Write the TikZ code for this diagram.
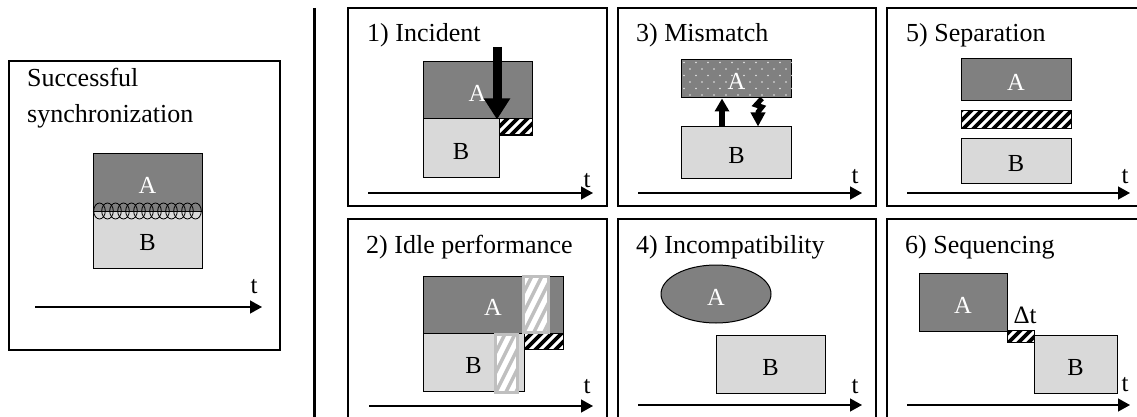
\documentclass[tikz,border=0pt]{standalone}
\usepackage{fontspec}
\setmainfont{Liberation Serif}
\usetikzlibrary{arrows.meta,shapes.geometric}
\definecolor{gA}{HTML}{808080}
\definecolor{gB}{HTML}{D9D9D9}
\definecolor{gbar}{HTML}{BFBFBF}
\definecolor{gdot}{HTML}{E6E6E6}
\tikzset{
  frame/.style={line width=1.6},
  lab/.style={inner sep=0, font=\fontsize{24.5}{24.5}\selectfont, text height=22pt, text depth=0pt},
  boxA/.style={lab, draw=black, line width=1, fill=gA, text=white},
  boxB/.style={lab, draw=black, line width=1, fill=gB, text=black},
  title/.style={anchor=base west, inner sep=0, font=\fontsize{26}{30}\selectfont},
  axis/.style={line width=1.3, -{Triangle[length=12,width=13]}},
  tlab/.style={inner sep=0, font=\fontsize{25}{25}\selectfont},
}
\newcommand{\hatchrect}[4]{%
  \begin{scope}
    \clip (#1,#2) rectangle (#3,#4);
    \fill[white] (#1,#2) rectangle (#3,#4);
    \foreach \k in {-40,-30,...,130} \draw[line width=3.6] ({#1+\k},#4+2) -- ++(32,-32);
  \end{scope}
  \draw[line width=1] (#1,#2) rectangle (#3,#4);}
\newcommand{\greybar}[4]{%
  \begin{scope}
    \clip (#1,#2) rectangle (#3,#4);
    \fill[white] (#1,#2) rectangle (#3,#4);
    \foreach \k in {-80,-70,...,40} \draw[gbar, line width=3.4] ({#1+\k},#4+2) -- ++(32,-64);
  \end{scope}
  \draw[gbar, line width=3] (#1,#2) rectangle (#3,#4);}
\begin{document}
\begin{tikzpicture}[x=1pt,y=-1pt]
\useasboundingbox (0,0) rectangle (1137,417);

% ---------- left panel ----------
\draw[frame] (9,61) rectangle (280,350);
\node[title] (s1) at (27,87) {Successful};
\node[title] (s2) at (27,122) {synchronization};
\node[boxA, minimum width=109, minimum height=58] (a0) at (147.5,182) {A};
\node[boxB, minimum width=109, minimum height=57] (b0) at (147.5,239.5) {B};
\foreach \i in {0,...,12}
  \draw[line width=0.8] ({99.5+8*\i},211) ellipse [x radius=5.8, y radius=8];
\draw[line width=1.2] (a0.south west) -- (a0.south east);
\coordinate (t0s) at (35,307); \coordinate (t0e) at (262,307);
\draw[axis] (t0s) -- (t0e);
\node[tlab] (t0) at (254,287) {t};

% ---------- separator ----------
\draw[line width=3] (314,8) -- (314,420);

% ---------- frames ----------
\draw[frame] (348,8) rectangle (607,206);
\draw[frame] (618,8) rectangle (876,206);
\draw[frame] (1142,8) -- (887,8) -- (887,206) -- (1142,206);
\draw[frame] (348,422) -- (348,219) -- (607,219) -- (607,422);
\draw[frame] (618,422) -- (618,219) -- (876,219) -- (876,422);
\draw[frame] (887,422) -- (887,219) -- (1142,219);

% ---------- 1) Incident ----------
\node[title] (p1) at (367,42) {1) Incident};
\node[boxA, minimum width=109, minimum height=57] (a1) at (477.5,90.5) {A};
\node[boxB, minimum width=76, minimum height=58] (b1) at (461,148) {B};
\hatchrect{499}{119}{532}{135}
\coordinate (i1) at (497,47);
\draw[line width=9, -{Triangle[length=21,width=25]}] (i1) -- (i1 |- a1.south);
\draw[axis] (368,193) coordinate (t1s) -- (593,193) coordinate (t1e);
\node[tlab] (t1) at (587,181) {t};

% ---------- 3) Mismatch ----------
\node[title] (p3) at (636,42) {3) Mismatch};
\node[boxA, minimum width=110, minimum height=38] (a3) at (736.5,79) {};
\begin{scope}
  \clip (a3.south west) rectangle (a3.north east);
  \foreach \r in {0,...,5} {
    \pgfmathsetmacro{\yy}{62.5+6.5*\r}
    \pgfmathsetmacro{\xo}{mod(\r,2)==0 ? 0 : 6}
    \foreach \c in {0,...,9}
      \fill[gdot] ({684+\xo+12*\c},\yy) circle (0.9);
  }
\end{scope}
\node[lab, text=white] (a3l) at (a3.center) {A};
\node[boxB, minimum width=110, minimum height=51] (b3) at (736.5,152.5) {B};
\draw[line width=6, -{Triangle[length=13,width=14]}] (b3.north -| 722,0) -- (a3.south -| 722,0);
\draw[line width=5, -{Triangle[length=14,width=14]}]
  (a3.south -| 762,0) -- (756,105) -- (762,107) -- (758,112) -- (b3.north -| 758,0);
\draw[axis] (638,193) coordinate (t3s) -- (862,193) coordinate (t3e);
\node[tlab] (t3) at (855,177) {t};

% ---------- 5) Separation ----------
\node[title] (p5) at (906,42) {5) Separation};
\node[boxA, minimum width=110, minimum height=42] (a5) at (1016,80) {A};
\hatchrect{961}{111}{1071}{129}
\node[boxB, minimum width=110, minimum height=45] (b5) at (1016,160.5) {B};
\draw[axis] (907,193) coordinate (t5s) -- (1130,193) coordinate (t5e);
\node[tlab] (t5) at (1125,177) {t};

% ---------- 2) Idle performance ----------
\node[title] (p2) at (366,253) {2) Idle performance};
\node[boxA, minimum width=140, minimum height=57] (a2) at (493,304.5) {A};
\node[boxB, minimum width=101, minimum height=58] (b2) at (473.5,362) {B};
\hatchrect{524}{333}{563}{349}
\greybar{523}{276}{548}{332}
\greybar{495}{334}{517}{392}
\draw[axis] (369,406) coordinate (t2s) -- (593,406) coordinate (t2e);
\node[tlab] (t2) at (587,387) {t};

% ---------- 4) Incompatibility ----------
\node[title] (p4) at (636,253) {4) Incompatibility};
\node[lab, ellipse, draw=black, line width=1, fill=gA, text=white,
  minimum width=110, minimum height=58] (a4) at (716,294) {A};
\node[boxB, minimum width=109, minimum height=58] (b4) at (770.5,364) {B};
\draw[axis] (638,405) coordinate (t4s) -- (862,405) coordinate (t4e);
\node[tlab] (t4) at (855,387) {t};

% ---------- 6) Sequencing ----------
\node[title] (p6) at (905,253) {6) Sequencing};
\node[boxA, minimum width=88, minimum height=58] (a6) at (963,302) {A};
\hatchrect{1007}{330}{1034}{342}
\node[boxB, minimum width=83, minimum height=58] (b6) at (1075.5,364) {B};
\node[inner sep=0, font=\fontsize{25}{25}\selectfont] (dt) at (1025,315) {Δt};
\draw[axis] (907,405) coordinate (t6s) -- (1130,405) coordinate (t6e);
\node[tlab] (t6) at (1125,385) {t};
\end{tikzpicture}
\end{document}
